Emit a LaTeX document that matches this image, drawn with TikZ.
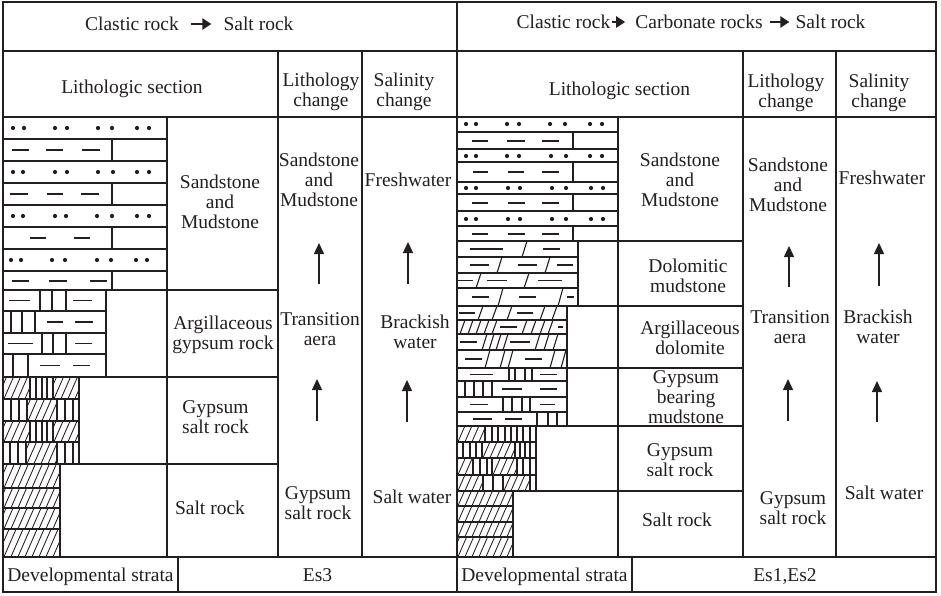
\documentclass[tikz,border=0pt]{standalone}
\usepackage{fontspec}
\setmainfont{Liberation Serif}
\usetikzlibrary{arrows.meta}
\definecolor{ink}{RGB}{35,31,32}
\newcommand\fs{\fontsize{19.5}{20}\selectfont}
\newcommand\hatchbox[4]{%
  \begin{scope}
    \clip (#1,#2) rectangle (#3,#4);
    \foreach \kk in {-21,-14,...,84} {\draw[ht] (#1+\kk,#4+2) -- ++(14,-32);}
  \end{scope}}
\newcommand\vls[3]{\foreach \xx in {#1} {\draw[rk] (\xx,#2) -- (\xx,#3);}}
\newcommand\dsh[2]{\foreach \pa/\pb in {#1} {\draw[ds] (\pa,#2) -- (\pb,#2);}}
\newcommand\dts[2]{\foreach \xx in {#1} {\fill[ink] (\xx,#2) circle (2.1);}}
\newcommand\sls[3]{\foreach \xx in {#1} {\draw[rk] (\xx,#3) -- (\xx+5,#2);}}
\begin{document}
\begin{tikzpicture}[x=1pt,y=-1pt,
  tl/.style={line width=1.4pt, draw=ink},
  ob/.style={line width=2pt, draw=ink},
  rk/.style={line width=1.1pt, draw=ink},
  ht/.style={line width=0.85pt, draw=ink},
  ds/.style={line width=1.3pt, draw=ink},
  lbl/.style={font=\fs, text=ink, align=center, inner sep=0pt, execute at begin node=\strut},
  uarr/.style={line width=1.5pt, draw=ink, -{Triangle[length=11pt,width=10pt]}},
  harr/.style={line width=2.6pt, draw=ink, -{Triangle[length=9pt,width=11pt]}}]
\fill[white] (0,0) rectangle (941,595);
\useasboundingbox (0,0) rectangle (941,595);

% ===== LEFT ROCK COLUMN =====
\foreach \ya/\yb in {117/139,161/183,205/227,249/271} {\draw[rk] (3,\ya) rectangle (167,\yb);}
\dts{13,24,55,67,98,112,137,149}{128}
\dts{13,23,55,67,98,113,137,149}{172}
\dts{13,23,55,66,97,112,137,149}{216}
\dts{11,21,52,65,97,111,136,147}{260}
\foreach \ya/\yb in {139/161,183/205,227/249,271/290} {\draw[rk] (3,\ya) rectangle (112,\yb);}
\dsh{12/29,46/63,82/100}{150}
\dsh{10/28,47/63,81/99}{194}
\dsh{30/46,74/90}{238}
\dsh{12/29,49/67,90/107}{281}
% argillaceous gypsum
\foreach \ya/\yb in {290/311,311/333,333/354,354/377} {\draw[rk] (3,\ya) rectangle (106,\yb);}
\vls{40,52,66}{290}{311} \dsh{9/30,73/92}{300.5}
\vls{11,22,35}{311}{333} \dsh{47/63,75/93}{322}
\vls{42,53,66}{333}{354} \dsh{8/33,75/92}{343.5}
\vls{13,28}{354}{377} \dsh{40/60,73/90}{365.5}
% gypsum salt
\hatchbox{3}{377}{30}{399} \vls{30,36,42,47,53}{377}{399} \hatchbox{53}{377}{79}{399}
\vls{11,19,27}{399}{421} \hatchbox{27}{399}{57}{421} \vls{57,65,73}{399}{421}
\hatchbox{3}{421}{30}{442} \vls{30,36,42,47,53}{421}{442} \hatchbox{53}{421}{79}{442}
\vls{10,18,26}{442}{464} \hatchbox{26}{442}{57}{464} \vls{57,65,73}{442}{464}
\foreach \ya/\yb in {377/399,399/421,421/442,442/464} {\draw[rk] (3,\ya) rectangle (79,\yb);}
% salt
\foreach \ya/\yb in {464/488,488/508,508/529,529/557} {\hatchbox{3}{\ya}{60}{\yb} \draw[rk] (3,\ya) rectangle (60,\yb);}

% ===== RIGHT ROCK COLUMN =====
\foreach \ya/\yb in {117/132,149/162,182/194,211/226} {\draw[rk] (457,\ya) rectangle (618,\yb);}
\dts{466,476,507,519,550,565,590,602}{124}
\dts{466,476,507,519,551,566,590,602}{156}
\dts{466,476,508,520,552,566,591,603}{188}
\dts{466,476,508,520,552,566,591,603}{219}
\foreach \ya/\yb in {132/149,162/182,194/211,226/241} {\draw[rk] (457,\ya) rectangle (573,\yb);}
\dsh{472/488,507/525,542/559}{141}
\dsh{473/488,508/524,542/559}{172}
\dsh{472/488,508/525,542/559}{203}
\dsh{472/488,508/525,542/559}{234}
% dolomitic mudstone
\foreach \ya/\yb in {241/257,257/273,273/288,288/306} {\draw[rk] (457,\ya) rectangle (578,\yb);}
\dsh{470/503,543/560}{249} \sls{522}{241}{257}
\dsh{470/489,518/537,557/573}{265} \sls{497,545}{257}{273}
\dsh{458/473,487/507,538/562}{280.5} \sls{476,524}{273}{288}
\dsh{472/489,519/536,567/574}{297} \sls{498,558}{288}{306}
% argillaceous dolomite
\foreach \ya/\yb in {306/320,320/334,334/350,350/368} {\draw[rk] (457,\ya) rectangle (567,\yb);}
\dsh{459/475,517/533}{313} \sls{478,492,507,540,552}{306}{320}
\dsh{500/517,558/563}{327} \sls{460,468,476,484,492,522,531,540,548}{320}{334}
\dsh{460/477,510/530}{342} \sls{482,489,496,503,535,544,553}{334}{350}
\dsh{465/482,525/542}{359} \sls{485,500,508,550,561}{350}{368}
% gypsum bearing mudstone
\foreach \ya/\yb in {368/381,381/397,397/412,412/426} {\draw[rk] (457,\ya) rectangle (567,\yb);}
\dsh{470/493,540/557}{374.5} \vls{509,515,525,532}{368}{381}
\vls{465,474,483,492}{381}{397} \dsh{502/522,540/557}{389}
\dsh{470/488,540/555}{404.5} \vls{503,512,522,530}{397}{412}
\dsh{473/492,505/522}{419} \vls{537,548,557}{412}{426}
% gypsum salt
\hatchbox{457}{426}{485}{442} \vls{485,492,498,505,511,517,523,530}{426}{442}
\vls{463,470,476,482}{442}{458} \hatchbox{482}{442}{515}{458} \vls{515,520,525,530}{442}{458}
\hatchbox{457}{458}{473}{475} \vls{473,480,487,492}{458}{475} \hatchbox{492}{458}{517}{475} \vls{517,523,530}{458}{475}
\hatchbox{457}{475}{483}{491} \vls{483,493,503}{475}{491} \hatchbox{503}{475}{530}{491} \vls{530}{475}{491}
\foreach \ya/\yb in {426/442,442/458,458/475,475/491} {\draw[rk] (457,\ya) rectangle (536,\yb);}
% salt
\foreach \ya/\yb in {491/506,506/522,522/537,537/557} {\hatchbox{457}{\ya}{513}{\yb} \draw[rk] (457,\ya) rectangle (513,\yb);}

% ===== TABLE LINES =====
\draw[tl] (3,51) -- (936,51);
\draw[tl] (3,117) -- (936,117);
\draw[tl] (3,557) -- (936,557);
\draw[tl] (457,2) -- (457,592);
\draw[tl] (278,51) -- (278,557);
\draw[tl] (362,51) -- (362,557);
\draw[tl] (743,51) -- (743,557);
\draw[tl] (836,51) -- (836,557);
\draw[tl] (167,117) -- (167,557);
\draw[tl] (618,117) -- (618,557);
\draw[tl] (178,557) -- (178,592);
\draw[tl] (632,557) -- (632,592);
\foreach \yy in {290,377,464} {\draw[tl] (3,\yy) -- (278,\yy);}
\foreach \yy in {241,306,368,426,491} {\draw[tl] (457,\yy) -- (743,\yy);}
\draw[ob] (3,2) rectangle (936,592);

% ===== HEADER TEXT =====
\node[lbl] (h1a) at (132,26.5) {Clastic rock};
\node[lbl] (h1b) at (258.5,26.5) {Salt rock};
\draw[harr] ([xshift=12pt,yshift=2.5pt]h1a.east) -- ([xshift=-12pt,yshift=2.5pt]h1b.west);
\node[lbl] (h2a) at (563.5,24.5) {Clastic rock};
\node[lbl] (h2b) at (699,24.5) {Carbonate rocks};
\node[lbl] (h2c) at (830.5,24.5) {Salt rock};
\draw[harr] ([xshift=1pt,yshift=2.5pt]h2a.east) -- ([xshift=-10pt,yshift=2.5pt]h2b.west);
\draw[harr] ([xshift=7pt,yshift=2.5pt]h2b.east) -- ([xshift=-6pt,yshift=2.5pt]h2c.west);

\node[lbl] (lsL) at (132,89.5) {Lithologic section};
\node[lbl] (lsR) at (619.5,91.5) {Lithologic section};
\node[lbl] (lcL) at (321,92.5) {Lithology\\\strut change};
\node[lbl] (scL) at (404,92.5) {Salinity\\\strut change};
\node[lbl] (lcR) at (786,93.5) {Lithology\\\strut change};
\node[lbl] (scR) at (879,93.5) {Salinity\\\strut change};

% ===== LEFT LABELS =====
\node[lbl] (L1) at (220,204.5) {Sandstone\\\strut and\hspace*{22pt}\\\strut Mudstone};
\node[lbl] (L2) at (223,336) {Argillaceous\\\strut gypsum rock};
\node[lbl] (L3) at (215.5,420) {Gypsum\\\strut salt rock};
\node[lbl] (L4) at (210,510.5) {Salt rock};

\node[lbl] (LC1) at (319,182.5) {Sandstone\\\strut and\\\strut Mudstone};
\node[lbl] (LC2) at (320,332.5) {Transition\\\strut aera};
\node[lbl] (LC3) at (318,506.5) {Gypsum\\\strut salt rock};
\coordinate (la1) at (319,284); \coordinate (la2) at (319,243);
\coordinate (la3) at (317,421); \coordinate (la4) at (317,379);
\draw[uarr] (la1) -- (la2);
\draw[uarr] (la3) -- (la4);

\node[lbl] (SC1) at (408,182.5) {Freshwater};
\node[lbl] (SC2) at (415,335) {Brackish\\\strut water};
\node[lbl] (SC3) at (412,499.5) {Salt water};
\coordinate (sa1) at (408,284); \coordinate (sa2) at (408,242);
\coordinate (sa3) at (407,422); \coordinate (sa4) at (407,380);
\draw[uarr] (sa1) -- (sa2);
\draw[uarr] (sa3) -- (sa4);

% ===== RIGHT LABELS =====
\node[lbl] (R1) at (680,182.5) {Sandstone\\\strut and\\\strut Mudstone};
\node[lbl] (R2) at (688,278.5) {Dolomitic\\\strut mudstone};
\node[lbl] (R3) at (690,340.5) {Argillaceous\\\strut dolomite};
\node[lbl] (R4) at (686,400.5) {Gypsum\\\strut bearing\\\strut mudstone};
\node[lbl] (R5) at (680,463) {Gypsum\\\strut salt rock};
\node[lbl] (R6) at (677,522.5) {Salt rock};

\node[lbl] (RC1) at (788,187.5) {Sandstone\\\strut and\\\strut Mudstone};
\node[lbl] (RC2) at (790,330.5) {Transition\\\strut aera};
\node[lbl] (RC3) at (793,511.5) {Gypsum\\\strut salt rock};
\coordinate (ra1) at (789,287); \coordinate (ra2) at (789,246);
\coordinate (ra3) at (788,421); \coordinate (ra4) at (788,379);
\draw[uarr] (ra1) -- (ra2);
\draw[uarr] (ra3) -- (ra4);

\node[lbl] (RS1) at (882,180.5) {Freshwater};
\node[lbl] (RS2) at (878,329.5) {Brackish\\\strut water};
\node[lbl] (RS3) at (884,495.5) {Salt water};
\coordinate (rs1) at (879,286); \coordinate (rs2) at (879,243);
\coordinate (rs3) at (877,422); \coordinate (rs4) at (877,381);
\draw[uarr] (rs1) -- (rs2);
\draw[uarr] (rs3) -- (rs4);

% ===== BOTTOM ROW =====
\node[lbl] (B1) at (90.5,577) {Developmental strata};
\node[lbl] (B2) at (317.5,577) {Es3};
\node[lbl] (B3) at (544.5,577) {Developmental strata};
\node[lbl] (B4) at (785,577) {Es1,Es2};
\end{tikzpicture}
\end{document}
